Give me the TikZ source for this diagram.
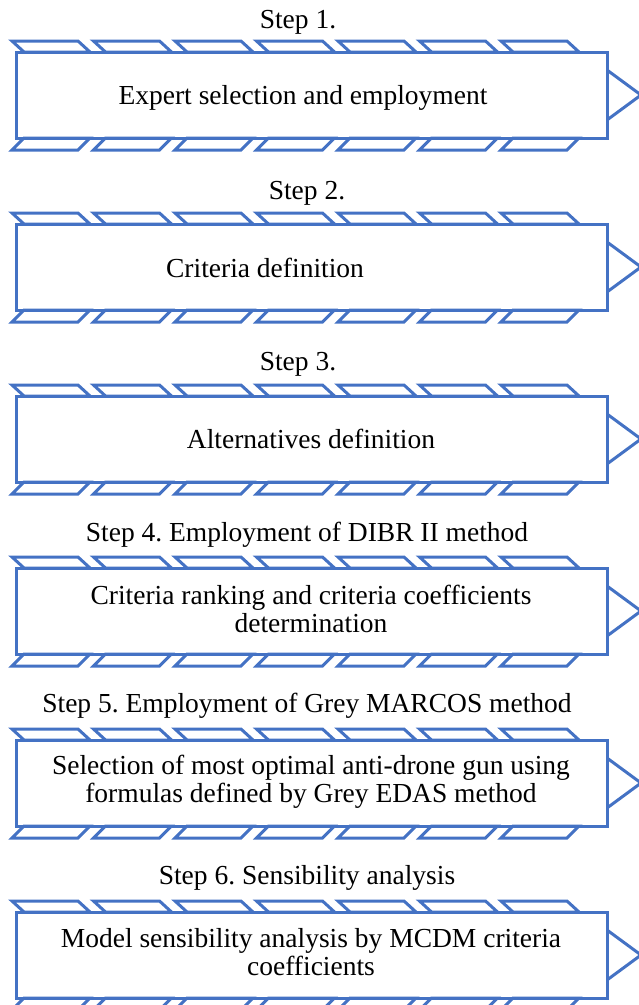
\documentclass[tikz,border=0pt]{standalone}
\usepackage{fontspec}
\setmainfont{Liberation Serif}
\usepackage{tikz}
\usetikzlibrary{positioning}
\definecolor{stepblue}{HTML}{4472C4}
\frenchspacing

\begin{document}
\begin{tikzpicture}
  [x=1pt, y=-1pt,
   box/.style={rectangle, draw=stepblue, line width=3pt, minimum width=591pt,
               minimum height=86pt, inner sep=0pt, outer sep=0pt},
   stripe/.style={draw=stepblue, line width=3pt},
   steplabel/.style={font=\fontsize{27.5}{30}\selectfont, inner sep=0pt},
   boxtext/.style={font=\fontsize{27.5}{28}\selectfont, align=center, inner sep=0pt}]
  \useasboundingbox (0,0) rectangle (638,1005);
  % Step boxes, one every 172pt
  \node[box] (box1) at (311.5, 95)  {};
  \node[box] (box2) at (311.5, 267) {};
  \node[box] (box3) at (311.5, 439) {};
  \node[box] (box4) at (311.5, 611) {};
  \node[box] (box5) at (311.5, 783) {};
  \node[box] (box6) at (311.5, 955) {};
  % Slanted stripes above and below each box, arrow head on the right
  \foreach \b in {box1,box2,box3,box4,box5,box6} {
    \foreach \i in {0,...,6} {
      \draw[stripe] ([xshift=-4pt+81.5*\i pt, yshift=11pt]\b.north west)
        -- ++(66,0) -- ++(12,11) -- ++(-66,0) -- cycle;
      \draw[stripe] ([xshift=8pt+81.5*\i pt]\b.south west)
        -- ++(66,0) -- ++(-12,12) -- ++(-66,0) -- cycle;
    }
    \draw[stripe] ([yshift=-25pt]\b.east) -- ++(34,-25) -- ++(-34,-25);
  }
  % Step titles
  \node[steplabel] (step1) at (298, 22)  {Step 1.};
  \node[steplabel] (step2) at (307, 193) {Step 2.};
  \node[steplabel] (step3) at (298, 364) {Step 3.};
  \node[steplabel] (step4) at (307, 535) {Step 4. Employment of DIBR II method};
  \node[steplabel] (step5) at (307, 706) {Step 5. Employment of Grey MARCOS method};
  \node[steplabel] (step6) at (307, 878) {Step 6. Sensibility analysis};
  % Box texts
  \node[boxtext] (text1) at (303, 98)  {Expert selection and employment};
  \node[boxtext] (text2) at (265, 268) {Criteria definition};
  \node[boxtext] (text3) at (311, 439) {Alternatives definition};
  \node[boxtext] (text4) at (311, 609) {Criteria ranking and criteria coefficients\\determination};
  \node[boxtext] (text5) at (311, 782) {Selection of most optimal anti-drone gun using\\formulas defined by Grey EDAS method};
  \node[boxtext] (text6) at (311, 952) {Model sensibility analysis by MCDM criteria\\coefficients};
\end{tikzpicture}
\end{document}
